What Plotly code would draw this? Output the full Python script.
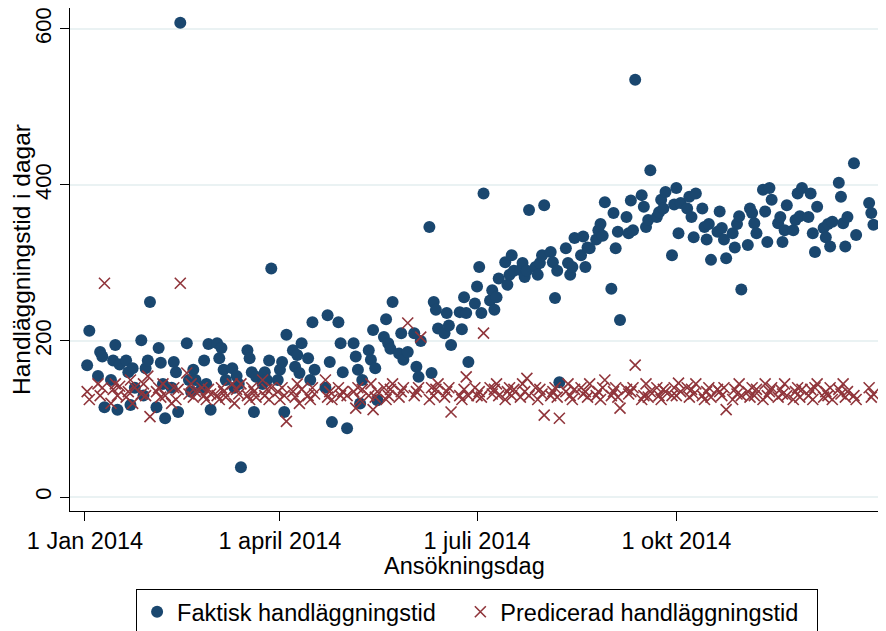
import pandas as pd
import plotly.graph_objects as go

# Svenska helgdagar 2014 som infaller på vardagar
HELGDAGAR = ["2014-01-01", "2014-01-06", "2014-04-18", "2014-04-21", "2014-05-01",
             "2014-05-29", "2014-06-06", "2014-06-20", "2014-12-24", "2014-12-25", "2014-12-26"]

ansokningsdag = pd.bdate_range("2014-01-01", "2014-12-31", freq="C", holidays=HELGDAGAR)

# Faktisk handläggningstid (dagar), en rad per månad
faktisk = [
    169, 213, 155, 186, 180, 115, 150, 175, 195, 112, 170, 175, 160, 118, 165, 140, 201, 130, 165, 175, 250,
    115, 191, 172, 145, 101, 140, 173, 160, 109, 608, 197, 150, 135, 163, 150, 140, 175, 145, 196, 112,
    197, 178, 191, 163, 150, 165, 140, 155, 145, 38, 188, 178, 160, 109, 154, 145, 160, 150, 175, 293, 150,
    163, 173, 109, 208, 188, 167, 182, 159, 197, 178, 150, 224, 163, 140, 233, 173, 96, 224, 197, 160,
    88, 197, 180, 163, 120, 150, 188, 176, 214, 165, 124, 205, 228, 197, 190, 250, 184, 210, 176, 186,
    210, 167, 154, 200, 346, 159, 250, 240, 216, 210, 236, 220, 195, 237, 215, 256, 236, 173, 248,
    270, 295, 236, 389, 252, 265, 240, 256, 280, 301, 272, 285, 310, 290, 291, 300, 282, 290, 368, 295, 285, 300, 310,
    374, 314, 301, 255, 290, 147, 319, 300, 285, 295, 332, 310, 334, 295, 320, 319, 330, 342, 350, 335, 378,
    267, 364, 319, 340, 227, 359, 338, 380, 342, 535, 387, 372, 346, 355, 419, 359, 365, 381, 370, 391, 310, 375,
    396, 338, 377, 370, 385, 359, 333, 389, 370, 346, 330, 350, 304, 340, 366, 345, 330, 306, 338, 320, 350, 360, 266,
    323, 370, 364, 351, 338, 394, 366, 327, 396, 381, 351, 359, 327, 342, 374, 342, 355, 389, 360, 396,
    359, 389, 338, 314, 372, 345, 333, 350, 321, 353, 403, 385, 351, 321, 359, 428, 336, 377, 364, 349,
]

# Predicerad handläggningstid (dagar), en rad per månad
predicerad = [
    135, 125, 145, 130, 140, 274, 120, 138, 145, 130, 142, 128, 135, 150, 120, 140, 132, 145, 130, 155, 103,
    135, 140, 128, 145, 130, 120, 140, 125, 138, 274, 159, 132, 145, 128, 135, 140, 130, 125, 138, 132,
    130, 125, 140, 135, 128, 145, 120, 138, 132, 145, 130, 125, 140, 135, 128, 150, 130, 138, 125, 140, 135,
    125, 140, 130, 97, 135, 128, 145, 120, 138, 130, 125, 140, 132, 150, 128, 135, 125, 140, 130, 135,
    130, 135, 114, 140, 125, 138, 130, 145, 112, 128, 135, 140, 125, 130, 138, 145, 128, 135, 140, 223,
    130, 135, 140, 205, 125, 140, 130, 138, 145, 128, 135, 140, 109, 130, 125, 138, 154, 130, 140,
    130, 135, 128, 210, 140, 132, 138, 145, 130, 125, 135, 140, 130, 138, 128, 145, 135, 152, 130, 140, 125, 138, 132,
    105, 130, 135, 140, 128, 101, 135, 145, 130, 125, 138, 140, 132, 135, 128, 145, 130, 135, 125, 140, 150,
    130, 135, 140, 128, 114, 138, 132, 135, 140, 169, 125, 130, 145, 128, 135, 140, 130, 125, 138, 135, 130, 140,
    130, 146, 135, 140, 128, 138, 132, 145, 130, 125, 135, 140, 128, 138, 135, 130, 140, 112, 125, 138, 132, 145, 130,
    135, 128, 140, 130, 138, 125, 145, 130, 135, 140, 128, 138, 132, 145, 130, 125, 135, 140, 128, 138,
    130, 138, 125, 140, 145, 128, 135, 130, 140, 125, 138, 132, 145, 128, 135, 130, 125, 140, 128, 132,
]

tick_datum = ["2014-01-01", "2014-04-01", "2014-07-01", "2014-10-01"]
tick_text = ["1 Jan 2014", "1 april 2014", "1 juli 2014", "1 okt 2014"]

NAVY = "#1a476f"
MAROON = "#90353b"
FONT = "Liberation Sans, Arial, sans-serif"
TEXT_SIZE = 23.5
NBSP = "\u00a0"  # luft i legenden

fig = go.Figure()
fig.add_trace(go.Scatter(
    x=ansokningsdag, y=faktisk, mode="markers", name="Faktisk handläggningstid" + NBSP * 3,
    marker=dict(symbol="circle", size=12, color=NAVY, line=dict(width=0)),
))
fig.add_trace(go.Scatter(
    x=ansokningsdag, y=predicerad, mode="markers", name="Predicerad handläggningstid" + NBSP * 2,
    marker=dict(symbol="x-thin", size=11, color=MAROON, line=dict(width=1.6, color=MAROON)),
))

# x-axelns titel som annotation för att kunna placeras tätt under tickraderna
fig.add_annotation(
    text="Ansökningsdag", xref="paper", yref="paper", x=0.483, y=-0.109,
    xanchor="center", yanchor="middle", showarrow=False, font=dict(size=TEXT_SIZE),
)

fig.update_layout(
    width=886, height=631,
    margin=dict(l=62, r=8, t=0, b=128, autoexpand=False),
    paper_bgcolor="white", plot_bgcolor="white",
    font=dict(family=FONT, size=TEXT_SIZE, color="black"),
    showlegend=True,
    legend=dict(
        orientation="h", x=0.081, xanchor="left", y=-0.155, yanchor="top",
        bordercolor="black", borderwidth=1, font=dict(size=TEXT_SIZE),
        itemwidth=30,
    ),
    xaxis=dict(
        type="date", range=["2013-12-25 02:00", "2015-01-05 19:00"],
        tickvals=tick_datum, ticktext=tick_text, automargin=False,
        showgrid=False, zeroline=False,
        showline=True, linecolor="black", linewidth=1.3,
        ticks="outside", ticklen=9, tickcolor="black", tickwidth=1.3,
    ),
    yaxis=dict(
        range=[-17.95, 626.9], tickvals=[0, 200, 400, 600], tickangle=-90, automargin=False,
        tickfont=dict(size=22), ticklabeloverflow="allow",
        showgrid=True, gridcolor="#eaf2f3", gridwidth=1.5, zeroline=False,
        showline=True, linecolor="black", linewidth=1.3,
        ticks="outside", ticklen=9, tickcolor="black", tickwidth=1.3,
        title=dict(text="Handläggningstid i dagar", standoff=8, font=dict(size=24.5)),
    ),
)

fig.write_html("out.html")
